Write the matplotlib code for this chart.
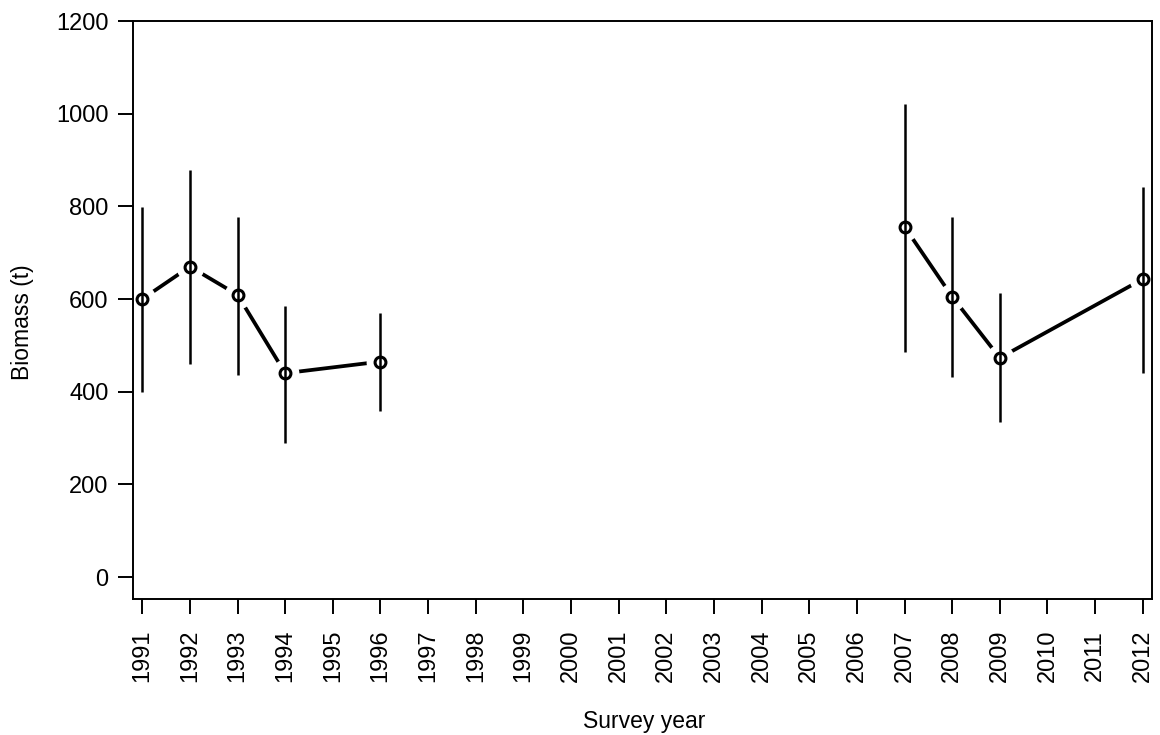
import matplotlib
matplotlib.use("Agg")
import matplotlib.pyplot as plt

# ---- data ----
years_a = [1991, 1992, 1993, 1994, 1996]
biomass_a = [600, 670, 609, 440, 465]
lower_a = [400, 460, 437, 290, 359]
upper_a = [799, 878, 778, 586, 569]

years_b = [2007, 2008, 2009, 2012]
biomass_b = [756, 605, 473, 643]
lower_b = [486, 432, 335, 441]
upper_b = [1021, 778, 612, 842]

tick_years = list(range(1991, 2013))
y_ticks = [0, 200, 400, 600, 800, 1000, 1200]

x_label = "Survey year"
y_label = "Biomass (t)"

# ---- figure ----
plt.rcParams['font.family'] = ['Liberation Sans', 'DejaVu Sans']
fig = plt.figure(figsize=(11.6, 7.35), dpi=100)
ax = fig.add_axes([133 / 1160, 1 - 599.3 / 735, (1152 - 133) / 1160, (599.3 - 21) / 735])

for yrs, vals, lo, hi in [(years_a, biomass_a, lower_a, upper_a),
                          (years_b, biomass_b, lower_b, upper_b)]:
    ax.plot(yrs, vals, color='black', lw=2.7, solid_capstyle='round', zorder=2)
    ax.plot(yrs, vals, linestyle='none', marker='o', ms=20, mfc='white',
            mec='none', zorder=3)
    ax.vlines(yrs, lo, hi, color='black', lw=1.8, zorder=4)
    ax.plot(yrs, vals, linestyle='none', marker='o', ms=7.8, mfc='none',
            mec='black', mew=2.2, zorder=5)

ax.set_xlim(1990.805, 2012.195)
ax.set_ylim(-48, 1200)
ax.set_xticks(tick_years)
ax.set_xticklabels([str(y) for y in tick_years], rotation=90)
ax.set_yticks(y_ticks)
ax.set_yticklabels([str(v) for v in y_ticks])

ax.tick_params(axis='both', direction='out', length=11, width=1.4,
               labelsize=17, colors='black')
ax.tick_params(axis='y', pad=6.5)
ax.tick_params(axis='x', pad=11)
for s in ax.spines.values():
    s.set_linewidth(1.4)
    s.set_color('black')
    s.set_zorder(10)

ax.set_xlabel(x_label, fontsize=16.5)
ax.set_ylabel(y_label, fontsize=16.5)
ax.xaxis.set_label_coords(644 / 1160, 1 - 728 / 735, transform=fig.transFigure)
ax.xaxis.label.set_va('baseline')
ax.yaxis.set_label_coords(22 / 1160, 1 - 322 / 735, transform=fig.transFigure)
ax.yaxis.label.set_va('center')

fig.savefig("out.png", dpi=100)
